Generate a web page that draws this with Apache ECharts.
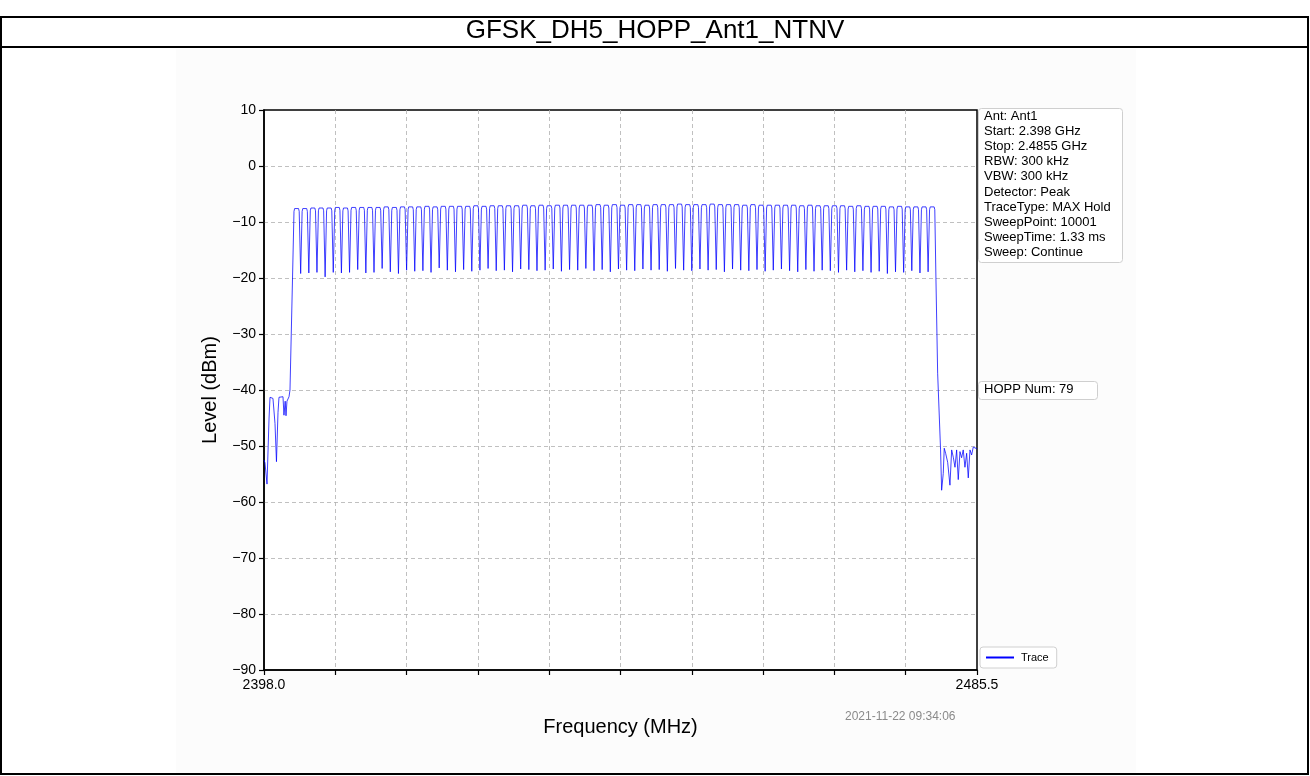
<!DOCTYPE html>
<html>
<head>
<meta charset="utf-8">
<title>GFSK_DH5_HOPP_Ant1_NTNV</title>
<script src="https://cdn.jsdelivr.net/npm/echarts@6/dist/echarts.min.js"></script>
<style>
  html, body { margin: 0; padding: 0; background: #fff; }
  #chart { width: 1310px; height: 776px; }
</style>
</head>
<body>
<div id="chart"></div>
<script>
// 坐标轴范围 (MHz / dBm)
var freqStart = 2398.0;
var freqStop = 2485.5;
var levelTicks = [10, 0, -10, -20, -30, -40, -50, -60, -70, -80, -90];

// 跳频信道中心频率: 2402 ~ 2480 MHz, 共79个
var firstChannel = 2402;
// 每个信道的峰值电平 (dBm)
var peakLevels = [
  -7.6, -7.6, -7.5, -7.5, -7.5, -7.4, -7.5, -7.4, -7.4, -7.4,
  -7.4, -7.3, -7.4, -7.3, -7.3, -7.3, -7.2, -7.3, -7.2, -7.2,
  -7.2, -7.2, -7.1, -7.2, -7.1, -7.1, -7.1, -7.1, -7.0, -7.1,
  -7.0, -7.1, -7.0, -7.0, -7.0, -7.0, -7.0, -6.9, -7.0, -6.9,
  -7.0, -6.9, -6.9, -7.0, -6.9, -6.9, -6.9, -6.8, -6.9, -6.9,
  -6.9, -6.8, -6.9, -6.9, -6.9, -7.0, -6.9, -7.0, -7.0, -7.0,
  -7.0, -7.0, -7.1, -7.0, -7.1, -7.1, -7.1, -7.1, -7.2, -7.1,
  -7.2, -7.2, -7.2, -7.3, -7.2, -7.3, -7.3, -7.3, -7.3
];
// 相邻信道之间的谷值电平 (dBm)
var dipLevels = [
  -19.2, -19.1, -19.0, -19.8, -19.0, -19.1, -19.0, -18.5, -19.1, -19.0,
  -18.3, -18.9, -19.2, -18.6, -18.8, -18.7, -19.0, -18.2, -18.6, -18.9,
  -18.5, -18.8, -18.6, -18.3, -18.7, -18.6, -18.9, -18.4, -18.5, -18.7,
  -18.6, -18.4, -18.8, -18.5, -18.6, -18.3, -18.7, -18.5, -18.9, -18.4,
  -18.6, -18.7, -18.4, -18.6, -18.5, -18.8, -18.3, -18.6, -18.7, -18.4,
  -18.6, -18.5, -18.9, -18.4, -18.6, -18.7, -18.5, -18.8, -18.6, -18.4,
  -18.7, -18.9, -18.5, -18.8, -18.6, -18.7, -19.0, -18.6, -18.9, -18.7,
  -19.0, -18.8, -19.2, -18.9, -19.0, -18.7, -19.1, -18.9
];

// 频段左侧噪声
var leftFreq = [2398.00, 2398.12, 2398.37, 2398.62, 2398.74, 2398.98, 2399.10, 2399.35, 2399.53,
                2399.72, 2399.84, 2400.08, 2400.33, 2400.45, 2400.60, 2400.70, 2400.82, 2401.07, 2401.19, 2401.50];
var leftLevel = [-52.5, -53.0, -56.8, -45.0, -41.3, -41.2, -41.5, -46.0, -52.8,
                 -44.0, -41.3, -41.5, -41.2, -44.5, -42.0, -44.6, -42.0, -41.2, -40.0, -20.0];
// 频段右侧下降沿及噪声
var rightFreq = [2480.46, 2480.67, 2481.03, 2481.16, 2481.36, 2481.48, 2481.65, 2481.90, 2482.18, 2482.39,
                 2482.59, 2482.80, 2483.00, 2483.20, 2483.41, 2483.61, 2483.81, 2484.02, 2484.23,
                 2484.43, 2484.64, 2484.84, 2485.04, 2485.25, 2485.50];
var rightLevel = [-20.0, -37.0, -50.7, -57.9, -54.9, -50.4, -51.3, -52.9, -57.0, -50.7,
                  -52.0, -53.8, -50.7, -56.0, -51.0, -52.1, -50.7, -53.8, -51.3,
                  -55.7, -50.7, -51.6, -50.2, -50.4, -50.5];

var infoLines = ['Ant: Ant1', 'Start: 2.398 GHz', 'Stop: 2.4855 GHz', 'RBW: 300 kHz', 'VBW: 300 kHz',
  'Detector: Peak', 'TraceType: MAX Hold', 'SweepPoint: 10001', 'SweepTime: 1.33 ms', 'Sweep: Continue'];
var hoppText = 'HOPP Num: 79';
var stampText = '2021-11-22 09:34:06';

// 组装曲线: x 用相对起始频率的偏移, 这样刻度从0开始
function buildTrace() {
  var pts = [];
  var i;
  for (i = 0; i < leftFreq.length; i++) {
    pts.push([leftFreq[i] - freqStart, leftLevel[i]]);
  }
  for (i = 0; i < peakLevels.length; i++) {
    var c = firstChannel + i;
    var p = peakLevels[i];
    pts.push([c - 0.32 - freqStart, p - 0.5]);
    pts.push([c - 0.24 - freqStart, p]);
    pts.push([c + 0.24 - freqStart, p]);
    pts.push([c + 0.32 - freqStart, p - 0.5]);
    if (i < dipLevels.length) {
      pts.push([c + 0.5 - freqStart, dipLevels[i]]);
    }
  }
  for (i = 0; i < rightFreq.length; i++) {
    pts.push([rightFreq[i] - freqStart, rightLevel[i]]);
  }
  return pts;
}

var span = freqStop - freqStart;
var myChart = echarts.init(document.getElementById('chart'));
var font = 'Liberation Sans, Arial, sans-serif';

var infoTexts = infoLines.map(function (t, k) {
  return {
    type: 'text', left: 984, top: 110 + k * 15.1,
    style: { text: t, font: '13px ' + font, fill: '#000' }
  };
});

var dashGrid = { show: true, showMinLine: false, showMaxLine: false,
  lineStyle: { color: '#b0b0b0', type: [4, 3], width: 0.8 } };

var option = {
  backgroundColor: '#fff',
  animation: false,
  grid: {
    left: 264, right: 333, top: 110, bottom: 106,
    show: true, borderColor: '#000', borderWidth: 1.5, backgroundColor: '#fff'
  },
  legend: {
    data: ['Trace'],
    left: 980, top: 647,
    orient: 'vertical',
    padding: [5, 8, 5, 6],
    borderColor: '#d0d0d0', borderWidth: 1, borderRadius: 3,
    backgroundColor: '#fff',
    itemWidth: 28, itemHeight: 2, itemGap: 4,
    icon: 'rect',
    textStyle: { fontFamily: font, fontSize: 11, color: '#000', padding: [0, 0, 0, 2] }
  },
  xAxis: {
    type: 'value',
    min: 0, max: span, interval: span / 10,
    name: 'Frequency (MHz)', nameLocation: 'middle', nameGap: 47,
    nameTextStyle: { fontFamily: font, fontSize: 20, color: '#000' },
    axisLine: { show: true, onZero: false, lineStyle: { color: '#000', width: 1.5 } },
    axisTick: { show: true, length: 5, lineStyle: { color: '#000', width: 1.2 } },
    axisLabel: {
      fontFamily: font, fontSize: 14, color: '#000', margin: 8, showMinLabel: true, showMaxLabel: true,
      formatter: function (v) {
        if (Math.abs(v) < 1e-6 || Math.abs(v - span) < 1e-6) {
          return (v + freqStart).toFixed(1);
        }
        return '';
      }
    },
    splitLine: dashGrid
  },
  yAxis: {
    type: 'value',
    min: levelTicks[levelTicks.length - 1], max: levelTicks[0], interval: 10,
    name: 'Level (dBm)', nameLocation: 'middle', nameGap: 44,
    nameTextStyle: { fontFamily: font, fontSize: 20, color: '#000' },
    axisLine: { show: true, onZero: false, lineStyle: { color: '#000', width: 1.5 } },
    axisTick: { show: true, length: 5, lineStyle: { color: '#000', width: 1.2 } },
    axisLabel: {
      fontFamily: font, fontSize: 14, color: '#000', margin: 8,
      formatter: function (v) { return v < 0 ? '\u2212' + Math.abs(v) : String(v); }
    },
    splitLine: dashGrid
  },
  graphic: [
    // 外框与标题栏
    { type: 'rect', shape: { x: 1, y: 17, width: 1307, height: 757 }, style: { fill: 'none', stroke: '#000', lineWidth: 2 }, z: 0 },
    { type: 'line', shape: { x1: 1, y1: 47, x2: 1308, y2: 47 }, style: { stroke: '#000', lineWidth: 2 }, z: 0 },
    { type: 'rect', shape: { x: 176, y: 49, width: 960, height: 726 }, style: { fill: '#fcfcfc' }, z: -10 },
    { type: 'text', left: 'center', top: 18, style: { text: 'GFSK_DH5_HOPP_Ant1_NTNV', font: '26px ' + font, fill: '#000' } },
    // 参数信息框
    { type: 'rect', shape: { x: 978.5, y: 108.5, width: 144, height: 154, r: 3 }, style: { fill: '#fff', stroke: '#cfcfcf', lineWidth: 1 } },
    { type: 'group', children: infoTexts },
    { type: 'rect', shape: { x: 978.5, y: 381.5, width: 119, height: 18, r: 3 }, style: { fill: '#fff', stroke: '#cfcfcf', lineWidth: 1 } },
    { type: 'text', left: 984, top: 383, style: { text: hoppText, font: '13px ' + font, fill: '#000' } },
    { type: 'text', left: 845, top: 711, style: { text: stampText, font: '12px ' + font, fill: '#8a8a8a' } }
  ],
  series: [
    {
      name: 'Trace',
      type: 'line',
      showSymbol: false,
      symbol: 'none',
      color: '#0000ff',
      lineStyle: { color: 'rgba(0,0,255,0.75)', width: 1 },
      data: buildTrace()
    }
  ]
};
myChart.setOption(option);
</script>
</body>
</html>
